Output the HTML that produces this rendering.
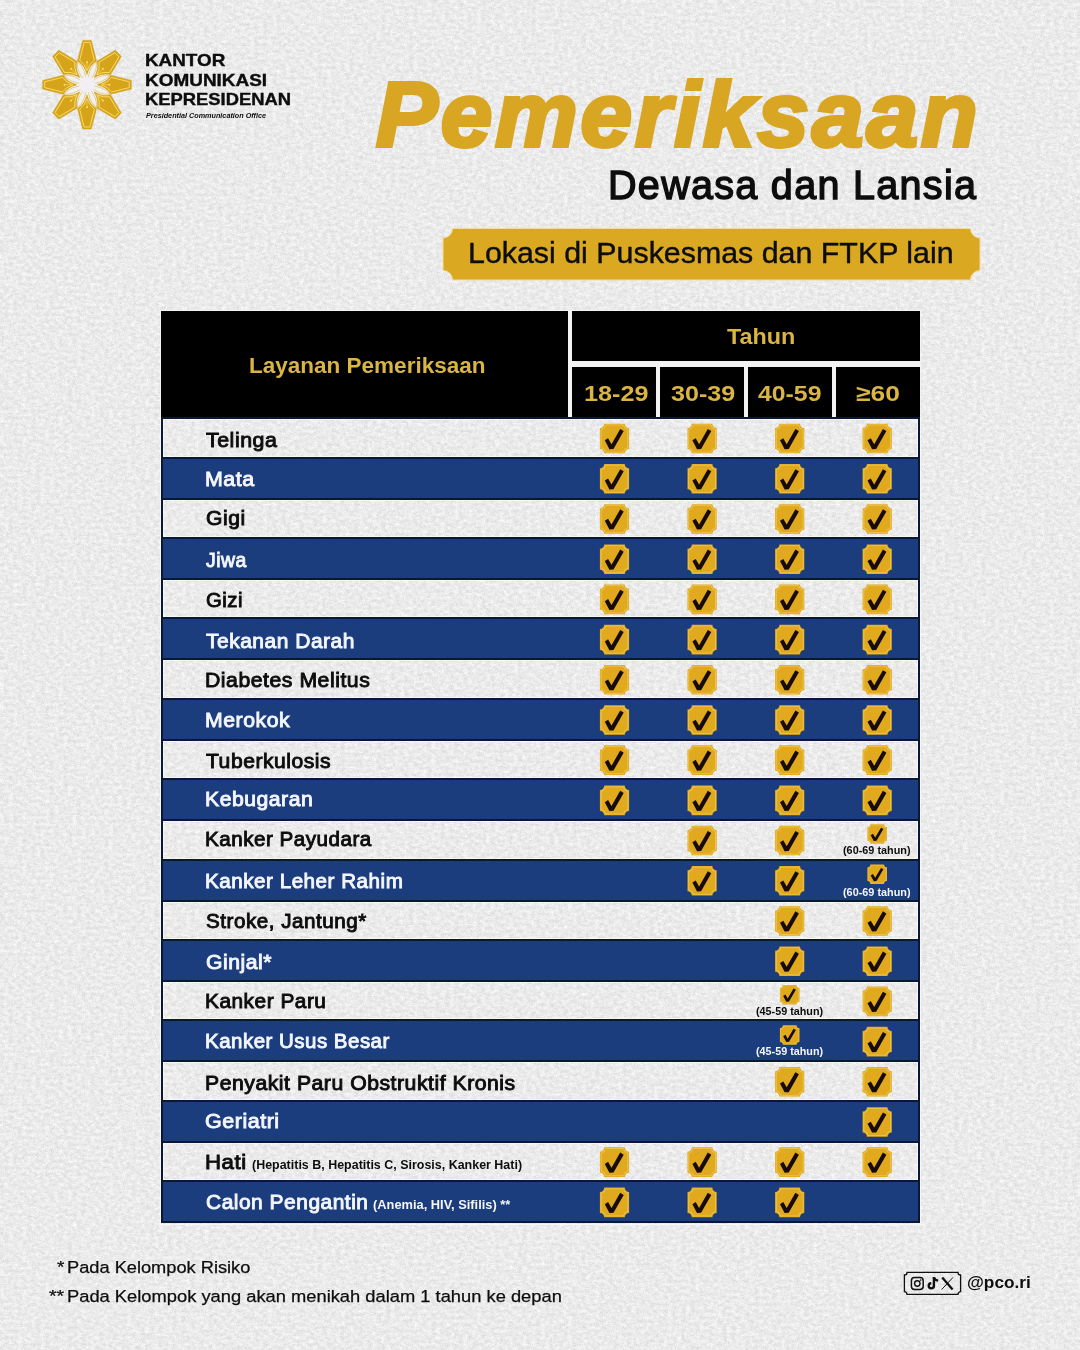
<!DOCTYPE html>
<html lang="id">
<head>
<meta charset="utf-8">
<title>Pemeriksaan Dewasa dan Lansia</title>
<style>
html,body{margin:0;padding:0;background:#f0f0f0;}
body{width:1080px;height:1350px;overflow:hidden;position:relative;font-family:"Liberation Sans",sans-serif;}
#page{position:absolute;left:0;top:0;width:1080px;height:1350px;overflow:hidden;background:#f0f0f0;}
.t{position:absolute;white-space:nowrap;line-height:1;font-weight:700;transform-origin:0 50%;margin:0;padding:0;}
.abs{position:absolute;}
svg{position:absolute;left:0;top:0;overflow:visible;}
/* table */
.hd{position:absolute;background:#000;}
#tb{position:absolute;left:159.6px;top:417.3px;width:761px;height:807.4px;box-sizing:border-box;border:1px solid #f7f7f7;border-top:0;}
.lr{position:absolute;left:160.6px;width:759px;height:41.4px;box-sizing:border-box;border:2px solid #0a1836;box-shadow:inset 0 0 0 1px rgba(255,255,255,.55);}
.br{position:absolute;left:160.6px;width:759px;height:39.2px;box-sizing:border-box;background:#1b3d7d;border-left:2px solid #0a1836;border-right:2px solid #0a1836;}
.gap{position:absolute;background:#f3f3f3;}
</style>
</head>
<body>
<div id="page">
<!-- paper grain -->
<svg id="grain" width="1080" height="1350" viewBox="0 0 1080 1350">
  <filter id="pg" x="0" y="0" width="100%" height="100%" color-interpolation-filters="sRGB">
    <feTurbulence type="fractalNoise" baseFrequency="0.22 0.3" numOctaves="5" seed="23"/>
    <feColorMatrix type="matrix" values="1 0 0 0 0  1 0 0 0 0  1 0 0 0 0  0 0 0 0 1" result="a"/>
    <feTurbulence type="fractalNoise" baseFrequency="0.9 1.1" numOctaves="2" seed="5"/>
    <feColorMatrix type="matrix" values="1 0 0 0 0  1 0 0 0 0  1 0 0 0 0  0 0 0 0 1" result="b"/>
    <feComposite in="a" in2="b" operator="arithmetic" k1="0" k2="0.55" k3="0.44999999999999996" k4="0"/>
    <feColorMatrix type="matrix" values="0.26 0 0 0 0.79  0.26 0 0 0 0.79  0.26 0 0 0 0.79  0 0 0 0 1"/>
  </filter>
  <rect width="1080" height="1350" filter="url(#pg)"/>
</svg>


<!-- logo -->
<svg width="1080" height="1350" viewBox="0 0 1080 1350">
  <g transform="translate(87.0,84.7)">
    <circle r="24" fill="#f3f1ee"/>
    <g transform="rotate(0)"><path d="M-4.3,-44.3H4.3L9.5,-23.8Q2.4,-19.6 0,-10.2Q-2.4,-19.6 -9.5,-23.8Z" fill="#d5a41b" stroke="#c99c1f" stroke-width="0.5" stroke-linejoin="round"/><path d="M-2.9,-42.3H2.9L7.3,-24.5Q2.0,-20.6 0,-14Q-2.0,-20.6 -7.3,-24.5Z" fill="none" stroke="#ffde66" stroke-width="0.9"/><path d="M0,-22.5V-16" stroke="#ffde66" stroke-width="0.6"/><circle cx="0" cy="-22.5" r="1" fill="#ffe06a"/></g>
    <g transform="rotate(45)"><path d="M-4.3,-44.3H4.3L9.5,-23.8Q2.4,-19.6 0,-10.2Q-2.4,-19.6 -9.5,-23.8Z" fill="#d5a41b" stroke="#c99c1f" stroke-width="0.5" stroke-linejoin="round"/><path d="M-2.9,-42.3H2.9L7.3,-24.5Q2.0,-20.6 0,-14Q-2.0,-20.6 -7.3,-24.5Z" fill="none" stroke="#ffde66" stroke-width="0.9"/><path d="M0,-22.5V-16" stroke="#ffde66" stroke-width="0.6"/><circle cx="0" cy="-22.5" r="1" fill="#ffe06a"/></g>
    <g transform="rotate(90)"><path d="M-4.3,-44.3H4.3L9.5,-23.8Q2.4,-19.6 0,-10.2Q-2.4,-19.6 -9.5,-23.8Z" fill="#d5a41b" stroke="#c99c1f" stroke-width="0.5" stroke-linejoin="round"/><path d="M-2.9,-42.3H2.9L7.3,-24.5Q2.0,-20.6 0,-14Q-2.0,-20.6 -7.3,-24.5Z" fill="none" stroke="#ffde66" stroke-width="0.9"/><path d="M0,-22.5V-16" stroke="#ffde66" stroke-width="0.6"/><circle cx="0" cy="-22.5" r="1" fill="#ffe06a"/></g>
    <g transform="rotate(135)"><path d="M-4.3,-44.3H4.3L9.5,-23.8Q2.4,-19.6 0,-10.2Q-2.4,-19.6 -9.5,-23.8Z" fill="#d5a41b" stroke="#c99c1f" stroke-width="0.5" stroke-linejoin="round"/><path d="M-2.9,-42.3H2.9L7.3,-24.5Q2.0,-20.6 0,-14Q-2.0,-20.6 -7.3,-24.5Z" fill="none" stroke="#ffde66" stroke-width="0.9"/><path d="M0,-22.5V-16" stroke="#ffde66" stroke-width="0.6"/><circle cx="0" cy="-22.5" r="1" fill="#ffe06a"/></g>
    <g transform="rotate(180)"><path d="M-4.3,-44.3H4.3L9.5,-23.8Q2.4,-19.6 0,-10.2Q-2.4,-19.6 -9.5,-23.8Z" fill="#d5a41b" stroke="#c99c1f" stroke-width="0.5" stroke-linejoin="round"/><path d="M-2.9,-42.3H2.9L7.3,-24.5Q2.0,-20.6 0,-14Q-2.0,-20.6 -7.3,-24.5Z" fill="none" stroke="#ffde66" stroke-width="0.9"/><path d="M0,-22.5V-16" stroke="#ffde66" stroke-width="0.6"/><circle cx="0" cy="-22.5" r="1" fill="#ffe06a"/></g>
    <g transform="rotate(225)"><path d="M-4.3,-44.3H4.3L9.5,-23.8Q2.4,-19.6 0,-10.2Q-2.4,-19.6 -9.5,-23.8Z" fill="#d5a41b" stroke="#c99c1f" stroke-width="0.5" stroke-linejoin="round"/><path d="M-2.9,-42.3H2.9L7.3,-24.5Q2.0,-20.6 0,-14Q-2.0,-20.6 -7.3,-24.5Z" fill="none" stroke="#ffde66" stroke-width="0.9"/><path d="M0,-22.5V-16" stroke="#ffde66" stroke-width="0.6"/><circle cx="0" cy="-22.5" r="1" fill="#ffe06a"/></g>
    <g transform="rotate(270)"><path d="M-4.3,-44.3H4.3L9.5,-23.8Q2.4,-19.6 0,-10.2Q-2.4,-19.6 -9.5,-23.8Z" fill="#d5a41b" stroke="#c99c1f" stroke-width="0.5" stroke-linejoin="round"/><path d="M-2.9,-42.3H2.9L7.3,-24.5Q2.0,-20.6 0,-14Q-2.0,-20.6 -7.3,-24.5Z" fill="none" stroke="#ffde66" stroke-width="0.9"/><path d="M0,-22.5V-16" stroke="#ffde66" stroke-width="0.6"/><circle cx="0" cy="-22.5" r="1" fill="#ffe06a"/></g>
    <g transform="rotate(315)"><path d="M-4.3,-44.3H4.3L9.5,-23.8Q2.4,-19.6 0,-10.2Q-2.4,-19.6 -9.5,-23.8Z" fill="#d5a41b" stroke="#c99c1f" stroke-width="0.5" stroke-linejoin="round"/><path d="M-2.9,-42.3H2.9L7.3,-24.5Q2.0,-20.6 0,-14Q-2.0,-20.6 -7.3,-24.5Z" fill="none" stroke="#ffde66" stroke-width="0.9"/><path d="M0,-22.5V-16" stroke="#ffde66" stroke-width="0.6"/><circle cx="0" cy="-22.5" r="1" fill="#ffe06a"/></g>
    <path d="M0,-4Q-5.2,-14 0,-25Q5.2,-14 0,-4Z" fill="none" stroke="#d8b75a" stroke-width="0.55" transform="rotate(22.5)"/>
    <path d="M0,-4Q-5.2,-14 0,-25Q5.2,-14 0,-4Z" fill="none" stroke="#d8b75a" stroke-width="0.55" transform="rotate(67.5)"/>
    <path d="M0,-4Q-5.2,-14 0,-25Q5.2,-14 0,-4Z" fill="none" stroke="#d8b75a" stroke-width="0.55" transform="rotate(112.5)"/>
    <path d="M0,-4Q-5.2,-14 0,-25Q5.2,-14 0,-4Z" fill="none" stroke="#d8b75a" stroke-width="0.55" transform="rotate(157.5)"/>
    <path d="M0,-4Q-5.2,-14 0,-25Q5.2,-14 0,-4Z" fill="none" stroke="#d8b75a" stroke-width="0.55" transform="rotate(202.5)"/>
    <path d="M0,-4Q-5.2,-14 0,-25Q5.2,-14 0,-4Z" fill="none" stroke="#d8b75a" stroke-width="0.55" transform="rotate(247.5)"/>
    <path d="M0,-4Q-5.2,-14 0,-25Q5.2,-14 0,-4Z" fill="none" stroke="#d8b75a" stroke-width="0.55" transform="rotate(292.5)"/>
    <path d="M0,-4Q-5.2,-14 0,-25Q5.2,-14 0,-4Z" fill="none" stroke="#d8b75a" stroke-width="0.55" transform="rotate(337.5)"/>
    <circle r="8" fill="#f1eff4"/>
    </g>
  <!-- banner -->
  <path d="M452.5,228.5H970.5A9.5,9.5 0 0 0 980,238V270.5A9.5,9.5 0 0 0 970.5,280H452.5A9.5,9.5 0 0 0 443,270.5V238A9.5,9.5 0 0 0 452.5,228.5Z" fill="#dba822" stroke="#f3dca0" stroke-width="1"/>
</svg>

<!-- table header -->
<div class="gap" style="left:159.6px;top:309.8px;width:761px;height:107.6px;"></div>
<div class="hd" style="left:160.6px;top:310.8px;width:407.4px;height:106.8px;"></div>
<div class="hd" style="left:572px;top:310.8px;width:347.6px;height:50px;"></div>
<div class="hd" style="left:572px;top:366.8px;width:84.2px;height:50.8px;"></div>
<div class="hd" style="left:660px;top:366.8px;width:84px;height:50.8px;"></div>
<div class="hd" style="left:747.8px;top:366.8px;width:84px;height:50.8px;"></div>
<div class="hd" style="left:835.8px;top:366.8px;width:83.8px;height:50.8px;"></div>

<!-- table body -->
<div id="tb"></div>
<div class="lr" style="top:417.20px"></div>
<div class="br" style="top:458.60px"></div>
<div class="lr" style="top:497.60px"></div>
<div class="br" style="top:539.00px"></div>
<div class="lr" style="top:578.00px"></div>
<div class="br" style="top:619.40px"></div>
<div class="lr" style="top:658.40px"></div>
<div class="br" style="top:699.80px"></div>
<div class="lr" style="top:738.80px"></div>
<div class="br" style="top:780.20px"></div>
<div class="lr" style="top:819.20px"></div>
<div class="br" style="top:860.60px"></div>
<div class="lr" style="top:899.60px"></div>
<div class="br" style="top:941.00px"></div>
<div class="lr" style="top:980.00px"></div>
<div class="br" style="top:1021.40px"></div>
<div class="lr" style="top:1060.40px"></div>
<div class="br" style="top:1101.80px"></div>
<div class="lr" style="top:1140.80px"></div>
<div class="br" style="top:1182.20px;height:41.2px;border-bottom:2px solid #0a1836"></div>

<!-- check badges -->
<svg width="1080" height="1350" viewBox="0 0 1080 1350">
<g transform="translate(599.90,423.75) scale(1.0000,1.0000)"><path d="M4.3,0H24.9A4.3,4.3 0 0 0 29.2,4.3V25.3A4.3,4.3 0 0 0 24.9,29.6H4.3A4.3,4.3 0 0 0 0,25.3V4.3A4.3,4.3 0 0 0 4.3,0Z" fill="#e1a91d"/><path d="M1.2,5.6A5,5 0 0 0 5.6,1.2H23.6A5,5 0 0 0 28,5.6V24A5,5 0 0 0 23.6,28.4H5.6A5,5 0 0 0 1.2,24Z" fill="none" stroke="#f2d266" stroke-width="0.8" opacity="0.8"/><path d="M4.9,16.6L8.2,14.5L11.6,20.4L20.3,5.2L23.8,7.3L13.6,25.2L9.5,25.4Z" fill="#170b07"/></g>
<g transform="translate(687.50,423.75) scale(1.0000,1.0000)"><path d="M4.3,0H24.9A4.3,4.3 0 0 0 29.2,4.3V25.3A4.3,4.3 0 0 0 24.9,29.6H4.3A4.3,4.3 0 0 0 0,25.3V4.3A4.3,4.3 0 0 0 4.3,0Z" fill="#e1a91d"/><path d="M1.2,5.6A5,5 0 0 0 5.6,1.2H23.6A5,5 0 0 0 28,5.6V24A5,5 0 0 0 23.6,28.4H5.6A5,5 0 0 0 1.2,24Z" fill="none" stroke="#f2d266" stroke-width="0.8" opacity="0.8"/><path d="M4.9,16.6L8.2,14.5L11.6,20.4L20.3,5.2L23.8,7.3L13.6,25.2L9.5,25.4Z" fill="#170b07"/></g>
<g transform="translate(775.10,423.75) scale(1.0000,1.0000)"><path d="M4.3,0H24.9A4.3,4.3 0 0 0 29.2,4.3V25.3A4.3,4.3 0 0 0 24.9,29.6H4.3A4.3,4.3 0 0 0 0,25.3V4.3A4.3,4.3 0 0 0 4.3,0Z" fill="#e1a91d"/><path d="M1.2,5.6A5,5 0 0 0 5.6,1.2H23.6A5,5 0 0 0 28,5.6V24A5,5 0 0 0 23.6,28.4H5.6A5,5 0 0 0 1.2,24Z" fill="none" stroke="#f2d266" stroke-width="0.8" opacity="0.8"/><path d="M4.9,16.6L8.2,14.5L11.6,20.4L20.3,5.2L23.8,7.3L13.6,25.2L9.5,25.4Z" fill="#170b07"/></g>
<g transform="translate(862.60,423.75) scale(1.0000,1.0000)"><path d="M4.3,0H24.9A4.3,4.3 0 0 0 29.2,4.3V25.3A4.3,4.3 0 0 0 24.9,29.6H4.3A4.3,4.3 0 0 0 0,25.3V4.3A4.3,4.3 0 0 0 4.3,0Z" fill="#e1a91d"/><path d="M1.2,5.6A5,5 0 0 0 5.6,1.2H23.6A5,5 0 0 0 28,5.6V24A5,5 0 0 0 23.6,28.4H5.6A5,5 0 0 0 1.2,24Z" fill="none" stroke="#f2d266" stroke-width="0.8" opacity="0.8"/><path d="M4.9,16.6L8.2,14.5L11.6,20.4L20.3,5.2L23.8,7.3L13.6,25.2L9.5,25.4Z" fill="#170b07"/></g>
<g transform="translate(599.90,464.00) scale(1.0000,1.0000)"><path d="M4.3,0H24.9A4.3,4.3 0 0 0 29.2,4.3V25.3A4.3,4.3 0 0 0 24.9,29.6H4.3A4.3,4.3 0 0 0 0,25.3V4.3A4.3,4.3 0 0 0 4.3,0Z" fill="#e1a91d"/><path d="M1.2,5.6A5,5 0 0 0 5.6,1.2H23.6A5,5 0 0 0 28,5.6V24A5,5 0 0 0 23.6,28.4H5.6A5,5 0 0 0 1.2,24Z" fill="none" stroke="#f2d266" stroke-width="0.8" opacity="0.8"/><path d="M4.9,16.6L8.2,14.5L11.6,20.4L20.3,5.2L23.8,7.3L13.6,25.2L9.5,25.4Z" fill="#170b07"/></g>
<g transform="translate(687.50,464.00) scale(1.0000,1.0000)"><path d="M4.3,0H24.9A4.3,4.3 0 0 0 29.2,4.3V25.3A4.3,4.3 0 0 0 24.9,29.6H4.3A4.3,4.3 0 0 0 0,25.3V4.3A4.3,4.3 0 0 0 4.3,0Z" fill="#e1a91d"/><path d="M1.2,5.6A5,5 0 0 0 5.6,1.2H23.6A5,5 0 0 0 28,5.6V24A5,5 0 0 0 23.6,28.4H5.6A5,5 0 0 0 1.2,24Z" fill="none" stroke="#f2d266" stroke-width="0.8" opacity="0.8"/><path d="M4.9,16.6L8.2,14.5L11.6,20.4L20.3,5.2L23.8,7.3L13.6,25.2L9.5,25.4Z" fill="#170b07"/></g>
<g transform="translate(775.10,464.00) scale(1.0000,1.0000)"><path d="M4.3,0H24.9A4.3,4.3 0 0 0 29.2,4.3V25.3A4.3,4.3 0 0 0 24.9,29.6H4.3A4.3,4.3 0 0 0 0,25.3V4.3A4.3,4.3 0 0 0 4.3,0Z" fill="#e1a91d"/><path d="M1.2,5.6A5,5 0 0 0 5.6,1.2H23.6A5,5 0 0 0 28,5.6V24A5,5 0 0 0 23.6,28.4H5.6A5,5 0 0 0 1.2,24Z" fill="none" stroke="#f2d266" stroke-width="0.8" opacity="0.8"/><path d="M4.9,16.6L8.2,14.5L11.6,20.4L20.3,5.2L23.8,7.3L13.6,25.2L9.5,25.4Z" fill="#170b07"/></g>
<g transform="translate(862.60,464.00) scale(1.0000,1.0000)"><path d="M4.3,0H24.9A4.3,4.3 0 0 0 29.2,4.3V25.3A4.3,4.3 0 0 0 24.9,29.6H4.3A4.3,4.3 0 0 0 0,25.3V4.3A4.3,4.3 0 0 0 4.3,0Z" fill="#e1a91d"/><path d="M1.2,5.6A5,5 0 0 0 5.6,1.2H23.6A5,5 0 0 0 28,5.6V24A5,5 0 0 0 23.6,28.4H5.6A5,5 0 0 0 1.2,24Z" fill="none" stroke="#f2d266" stroke-width="0.8" opacity="0.8"/><path d="M4.9,16.6L8.2,14.5L11.6,20.4L20.3,5.2L23.8,7.3L13.6,25.2L9.5,25.4Z" fill="#170b07"/></g>
<g transform="translate(599.90,504.15) scale(1.0000,1.0000)"><path d="M4.3,0H24.9A4.3,4.3 0 0 0 29.2,4.3V25.3A4.3,4.3 0 0 0 24.9,29.6H4.3A4.3,4.3 0 0 0 0,25.3V4.3A4.3,4.3 0 0 0 4.3,0Z" fill="#e1a91d"/><path d="M1.2,5.6A5,5 0 0 0 5.6,1.2H23.6A5,5 0 0 0 28,5.6V24A5,5 0 0 0 23.6,28.4H5.6A5,5 0 0 0 1.2,24Z" fill="none" stroke="#f2d266" stroke-width="0.8" opacity="0.8"/><path d="M4.9,16.6L8.2,14.5L11.6,20.4L20.3,5.2L23.8,7.3L13.6,25.2L9.5,25.4Z" fill="#170b07"/></g>
<g transform="translate(687.50,504.15) scale(1.0000,1.0000)"><path d="M4.3,0H24.9A4.3,4.3 0 0 0 29.2,4.3V25.3A4.3,4.3 0 0 0 24.9,29.6H4.3A4.3,4.3 0 0 0 0,25.3V4.3A4.3,4.3 0 0 0 4.3,0Z" fill="#e1a91d"/><path d="M1.2,5.6A5,5 0 0 0 5.6,1.2H23.6A5,5 0 0 0 28,5.6V24A5,5 0 0 0 23.6,28.4H5.6A5,5 0 0 0 1.2,24Z" fill="none" stroke="#f2d266" stroke-width="0.8" opacity="0.8"/><path d="M4.9,16.6L8.2,14.5L11.6,20.4L20.3,5.2L23.8,7.3L13.6,25.2L9.5,25.4Z" fill="#170b07"/></g>
<g transform="translate(775.10,504.15) scale(1.0000,1.0000)"><path d="M4.3,0H24.9A4.3,4.3 0 0 0 29.2,4.3V25.3A4.3,4.3 0 0 0 24.9,29.6H4.3A4.3,4.3 0 0 0 0,25.3V4.3A4.3,4.3 0 0 0 4.3,0Z" fill="#e1a91d"/><path d="M1.2,5.6A5,5 0 0 0 5.6,1.2H23.6A5,5 0 0 0 28,5.6V24A5,5 0 0 0 23.6,28.4H5.6A5,5 0 0 0 1.2,24Z" fill="none" stroke="#f2d266" stroke-width="0.8" opacity="0.8"/><path d="M4.9,16.6L8.2,14.5L11.6,20.4L20.3,5.2L23.8,7.3L13.6,25.2L9.5,25.4Z" fill="#170b07"/></g>
<g transform="translate(862.60,504.15) scale(1.0000,1.0000)"><path d="M4.3,0H24.9A4.3,4.3 0 0 0 29.2,4.3V25.3A4.3,4.3 0 0 0 24.9,29.6H4.3A4.3,4.3 0 0 0 0,25.3V4.3A4.3,4.3 0 0 0 4.3,0Z" fill="#e1a91d"/><path d="M1.2,5.6A5,5 0 0 0 5.6,1.2H23.6A5,5 0 0 0 28,5.6V24A5,5 0 0 0 23.6,28.4H5.6A5,5 0 0 0 1.2,24Z" fill="none" stroke="#f2d266" stroke-width="0.8" opacity="0.8"/><path d="M4.9,16.6L8.2,14.5L11.6,20.4L20.3,5.2L23.8,7.3L13.6,25.2L9.5,25.4Z" fill="#170b07"/></g>
<g transform="translate(599.90,544.40) scale(1.0000,1.0000)"><path d="M4.3,0H24.9A4.3,4.3 0 0 0 29.2,4.3V25.3A4.3,4.3 0 0 0 24.9,29.6H4.3A4.3,4.3 0 0 0 0,25.3V4.3A4.3,4.3 0 0 0 4.3,0Z" fill="#e1a91d"/><path d="M1.2,5.6A5,5 0 0 0 5.6,1.2H23.6A5,5 0 0 0 28,5.6V24A5,5 0 0 0 23.6,28.4H5.6A5,5 0 0 0 1.2,24Z" fill="none" stroke="#f2d266" stroke-width="0.8" opacity="0.8"/><path d="M4.9,16.6L8.2,14.5L11.6,20.4L20.3,5.2L23.8,7.3L13.6,25.2L9.5,25.4Z" fill="#170b07"/></g>
<g transform="translate(687.50,544.40) scale(1.0000,1.0000)"><path d="M4.3,0H24.9A4.3,4.3 0 0 0 29.2,4.3V25.3A4.3,4.3 0 0 0 24.9,29.6H4.3A4.3,4.3 0 0 0 0,25.3V4.3A4.3,4.3 0 0 0 4.3,0Z" fill="#e1a91d"/><path d="M1.2,5.6A5,5 0 0 0 5.6,1.2H23.6A5,5 0 0 0 28,5.6V24A5,5 0 0 0 23.6,28.4H5.6A5,5 0 0 0 1.2,24Z" fill="none" stroke="#f2d266" stroke-width="0.8" opacity="0.8"/><path d="M4.9,16.6L8.2,14.5L11.6,20.4L20.3,5.2L23.8,7.3L13.6,25.2L9.5,25.4Z" fill="#170b07"/></g>
<g transform="translate(775.10,544.40) scale(1.0000,1.0000)"><path d="M4.3,0H24.9A4.3,4.3 0 0 0 29.2,4.3V25.3A4.3,4.3 0 0 0 24.9,29.6H4.3A4.3,4.3 0 0 0 0,25.3V4.3A4.3,4.3 0 0 0 4.3,0Z" fill="#e1a91d"/><path d="M1.2,5.6A5,5 0 0 0 5.6,1.2H23.6A5,5 0 0 0 28,5.6V24A5,5 0 0 0 23.6,28.4H5.6A5,5 0 0 0 1.2,24Z" fill="none" stroke="#f2d266" stroke-width="0.8" opacity="0.8"/><path d="M4.9,16.6L8.2,14.5L11.6,20.4L20.3,5.2L23.8,7.3L13.6,25.2L9.5,25.4Z" fill="#170b07"/></g>
<g transform="translate(862.60,544.40) scale(1.0000,1.0000)"><path d="M4.3,0H24.9A4.3,4.3 0 0 0 29.2,4.3V25.3A4.3,4.3 0 0 0 24.9,29.6H4.3A4.3,4.3 0 0 0 0,25.3V4.3A4.3,4.3 0 0 0 4.3,0Z" fill="#e1a91d"/><path d="M1.2,5.6A5,5 0 0 0 5.6,1.2H23.6A5,5 0 0 0 28,5.6V24A5,5 0 0 0 23.6,28.4H5.6A5,5 0 0 0 1.2,24Z" fill="none" stroke="#f2d266" stroke-width="0.8" opacity="0.8"/><path d="M4.9,16.6L8.2,14.5L11.6,20.4L20.3,5.2L23.8,7.3L13.6,25.2L9.5,25.4Z" fill="#170b07"/></g>
<g transform="translate(599.90,584.55) scale(1.0000,1.0000)"><path d="M4.3,0H24.9A4.3,4.3 0 0 0 29.2,4.3V25.3A4.3,4.3 0 0 0 24.9,29.6H4.3A4.3,4.3 0 0 0 0,25.3V4.3A4.3,4.3 0 0 0 4.3,0Z" fill="#e1a91d"/><path d="M1.2,5.6A5,5 0 0 0 5.6,1.2H23.6A5,5 0 0 0 28,5.6V24A5,5 0 0 0 23.6,28.4H5.6A5,5 0 0 0 1.2,24Z" fill="none" stroke="#f2d266" stroke-width="0.8" opacity="0.8"/><path d="M4.9,16.6L8.2,14.5L11.6,20.4L20.3,5.2L23.8,7.3L13.6,25.2L9.5,25.4Z" fill="#170b07"/></g>
<g transform="translate(687.50,584.55) scale(1.0000,1.0000)"><path d="M4.3,0H24.9A4.3,4.3 0 0 0 29.2,4.3V25.3A4.3,4.3 0 0 0 24.9,29.6H4.3A4.3,4.3 0 0 0 0,25.3V4.3A4.3,4.3 0 0 0 4.3,0Z" fill="#e1a91d"/><path d="M1.2,5.6A5,5 0 0 0 5.6,1.2H23.6A5,5 0 0 0 28,5.6V24A5,5 0 0 0 23.6,28.4H5.6A5,5 0 0 0 1.2,24Z" fill="none" stroke="#f2d266" stroke-width="0.8" opacity="0.8"/><path d="M4.9,16.6L8.2,14.5L11.6,20.4L20.3,5.2L23.8,7.3L13.6,25.2L9.5,25.4Z" fill="#170b07"/></g>
<g transform="translate(775.10,584.55) scale(1.0000,1.0000)"><path d="M4.3,0H24.9A4.3,4.3 0 0 0 29.2,4.3V25.3A4.3,4.3 0 0 0 24.9,29.6H4.3A4.3,4.3 0 0 0 0,25.3V4.3A4.3,4.3 0 0 0 4.3,0Z" fill="#e1a91d"/><path d="M1.2,5.6A5,5 0 0 0 5.6,1.2H23.6A5,5 0 0 0 28,5.6V24A5,5 0 0 0 23.6,28.4H5.6A5,5 0 0 0 1.2,24Z" fill="none" stroke="#f2d266" stroke-width="0.8" opacity="0.8"/><path d="M4.9,16.6L8.2,14.5L11.6,20.4L20.3,5.2L23.8,7.3L13.6,25.2L9.5,25.4Z" fill="#170b07"/></g>
<g transform="translate(862.60,584.55) scale(1.0000,1.0000)"><path d="M4.3,0H24.9A4.3,4.3 0 0 0 29.2,4.3V25.3A4.3,4.3 0 0 0 24.9,29.6H4.3A4.3,4.3 0 0 0 0,25.3V4.3A4.3,4.3 0 0 0 4.3,0Z" fill="#e1a91d"/><path d="M1.2,5.6A5,5 0 0 0 5.6,1.2H23.6A5,5 0 0 0 28,5.6V24A5,5 0 0 0 23.6,28.4H5.6A5,5 0 0 0 1.2,24Z" fill="none" stroke="#f2d266" stroke-width="0.8" opacity="0.8"/><path d="M4.9,16.6L8.2,14.5L11.6,20.4L20.3,5.2L23.8,7.3L13.6,25.2L9.5,25.4Z" fill="#170b07"/></g>
<g transform="translate(599.90,624.80) scale(1.0000,1.0000)"><path d="M4.3,0H24.9A4.3,4.3 0 0 0 29.2,4.3V25.3A4.3,4.3 0 0 0 24.9,29.6H4.3A4.3,4.3 0 0 0 0,25.3V4.3A4.3,4.3 0 0 0 4.3,0Z" fill="#e1a91d"/><path d="M1.2,5.6A5,5 0 0 0 5.6,1.2H23.6A5,5 0 0 0 28,5.6V24A5,5 0 0 0 23.6,28.4H5.6A5,5 0 0 0 1.2,24Z" fill="none" stroke="#f2d266" stroke-width="0.8" opacity="0.8"/><path d="M4.9,16.6L8.2,14.5L11.6,20.4L20.3,5.2L23.8,7.3L13.6,25.2L9.5,25.4Z" fill="#170b07"/></g>
<g transform="translate(687.50,624.80) scale(1.0000,1.0000)"><path d="M4.3,0H24.9A4.3,4.3 0 0 0 29.2,4.3V25.3A4.3,4.3 0 0 0 24.9,29.6H4.3A4.3,4.3 0 0 0 0,25.3V4.3A4.3,4.3 0 0 0 4.3,0Z" fill="#e1a91d"/><path d="M1.2,5.6A5,5 0 0 0 5.6,1.2H23.6A5,5 0 0 0 28,5.6V24A5,5 0 0 0 23.6,28.4H5.6A5,5 0 0 0 1.2,24Z" fill="none" stroke="#f2d266" stroke-width="0.8" opacity="0.8"/><path d="M4.9,16.6L8.2,14.5L11.6,20.4L20.3,5.2L23.8,7.3L13.6,25.2L9.5,25.4Z" fill="#170b07"/></g>
<g transform="translate(775.10,624.80) scale(1.0000,1.0000)"><path d="M4.3,0H24.9A4.3,4.3 0 0 0 29.2,4.3V25.3A4.3,4.3 0 0 0 24.9,29.6H4.3A4.3,4.3 0 0 0 0,25.3V4.3A4.3,4.3 0 0 0 4.3,0Z" fill="#e1a91d"/><path d="M1.2,5.6A5,5 0 0 0 5.6,1.2H23.6A5,5 0 0 0 28,5.6V24A5,5 0 0 0 23.6,28.4H5.6A5,5 0 0 0 1.2,24Z" fill="none" stroke="#f2d266" stroke-width="0.8" opacity="0.8"/><path d="M4.9,16.6L8.2,14.5L11.6,20.4L20.3,5.2L23.8,7.3L13.6,25.2L9.5,25.4Z" fill="#170b07"/></g>
<g transform="translate(862.60,624.80) scale(1.0000,1.0000)"><path d="M4.3,0H24.9A4.3,4.3 0 0 0 29.2,4.3V25.3A4.3,4.3 0 0 0 24.9,29.6H4.3A4.3,4.3 0 0 0 0,25.3V4.3A4.3,4.3 0 0 0 4.3,0Z" fill="#e1a91d"/><path d="M1.2,5.6A5,5 0 0 0 5.6,1.2H23.6A5,5 0 0 0 28,5.6V24A5,5 0 0 0 23.6,28.4H5.6A5,5 0 0 0 1.2,24Z" fill="none" stroke="#f2d266" stroke-width="0.8" opacity="0.8"/><path d="M4.9,16.6L8.2,14.5L11.6,20.4L20.3,5.2L23.8,7.3L13.6,25.2L9.5,25.4Z" fill="#170b07"/></g>
<g transform="translate(599.90,664.95) scale(1.0000,1.0000)"><path d="M4.3,0H24.9A4.3,4.3 0 0 0 29.2,4.3V25.3A4.3,4.3 0 0 0 24.9,29.6H4.3A4.3,4.3 0 0 0 0,25.3V4.3A4.3,4.3 0 0 0 4.3,0Z" fill="#e1a91d"/><path d="M1.2,5.6A5,5 0 0 0 5.6,1.2H23.6A5,5 0 0 0 28,5.6V24A5,5 0 0 0 23.6,28.4H5.6A5,5 0 0 0 1.2,24Z" fill="none" stroke="#f2d266" stroke-width="0.8" opacity="0.8"/><path d="M4.9,16.6L8.2,14.5L11.6,20.4L20.3,5.2L23.8,7.3L13.6,25.2L9.5,25.4Z" fill="#170b07"/></g>
<g transform="translate(687.50,664.95) scale(1.0000,1.0000)"><path d="M4.3,0H24.9A4.3,4.3 0 0 0 29.2,4.3V25.3A4.3,4.3 0 0 0 24.9,29.6H4.3A4.3,4.3 0 0 0 0,25.3V4.3A4.3,4.3 0 0 0 4.3,0Z" fill="#e1a91d"/><path d="M1.2,5.6A5,5 0 0 0 5.6,1.2H23.6A5,5 0 0 0 28,5.6V24A5,5 0 0 0 23.6,28.4H5.6A5,5 0 0 0 1.2,24Z" fill="none" stroke="#f2d266" stroke-width="0.8" opacity="0.8"/><path d="M4.9,16.6L8.2,14.5L11.6,20.4L20.3,5.2L23.8,7.3L13.6,25.2L9.5,25.4Z" fill="#170b07"/></g>
<g transform="translate(775.10,664.95) scale(1.0000,1.0000)"><path d="M4.3,0H24.9A4.3,4.3 0 0 0 29.2,4.3V25.3A4.3,4.3 0 0 0 24.9,29.6H4.3A4.3,4.3 0 0 0 0,25.3V4.3A4.3,4.3 0 0 0 4.3,0Z" fill="#e1a91d"/><path d="M1.2,5.6A5,5 0 0 0 5.6,1.2H23.6A5,5 0 0 0 28,5.6V24A5,5 0 0 0 23.6,28.4H5.6A5,5 0 0 0 1.2,24Z" fill="none" stroke="#f2d266" stroke-width="0.8" opacity="0.8"/><path d="M4.9,16.6L8.2,14.5L11.6,20.4L20.3,5.2L23.8,7.3L13.6,25.2L9.5,25.4Z" fill="#170b07"/></g>
<g transform="translate(862.60,664.95) scale(1.0000,1.0000)"><path d="M4.3,0H24.9A4.3,4.3 0 0 0 29.2,4.3V25.3A4.3,4.3 0 0 0 24.9,29.6H4.3A4.3,4.3 0 0 0 0,25.3V4.3A4.3,4.3 0 0 0 4.3,0Z" fill="#e1a91d"/><path d="M1.2,5.6A5,5 0 0 0 5.6,1.2H23.6A5,5 0 0 0 28,5.6V24A5,5 0 0 0 23.6,28.4H5.6A5,5 0 0 0 1.2,24Z" fill="none" stroke="#f2d266" stroke-width="0.8" opacity="0.8"/><path d="M4.9,16.6L8.2,14.5L11.6,20.4L20.3,5.2L23.8,7.3L13.6,25.2L9.5,25.4Z" fill="#170b07"/></g>
<g transform="translate(599.90,705.20) scale(1.0000,1.0000)"><path d="M4.3,0H24.9A4.3,4.3 0 0 0 29.2,4.3V25.3A4.3,4.3 0 0 0 24.9,29.6H4.3A4.3,4.3 0 0 0 0,25.3V4.3A4.3,4.3 0 0 0 4.3,0Z" fill="#e1a91d"/><path d="M1.2,5.6A5,5 0 0 0 5.6,1.2H23.6A5,5 0 0 0 28,5.6V24A5,5 0 0 0 23.6,28.4H5.6A5,5 0 0 0 1.2,24Z" fill="none" stroke="#f2d266" stroke-width="0.8" opacity="0.8"/><path d="M4.9,16.6L8.2,14.5L11.6,20.4L20.3,5.2L23.8,7.3L13.6,25.2L9.5,25.4Z" fill="#170b07"/></g>
<g transform="translate(687.50,705.20) scale(1.0000,1.0000)"><path d="M4.3,0H24.9A4.3,4.3 0 0 0 29.2,4.3V25.3A4.3,4.3 0 0 0 24.9,29.6H4.3A4.3,4.3 0 0 0 0,25.3V4.3A4.3,4.3 0 0 0 4.3,0Z" fill="#e1a91d"/><path d="M1.2,5.6A5,5 0 0 0 5.6,1.2H23.6A5,5 0 0 0 28,5.6V24A5,5 0 0 0 23.6,28.4H5.6A5,5 0 0 0 1.2,24Z" fill="none" stroke="#f2d266" stroke-width="0.8" opacity="0.8"/><path d="M4.9,16.6L8.2,14.5L11.6,20.4L20.3,5.2L23.8,7.3L13.6,25.2L9.5,25.4Z" fill="#170b07"/></g>
<g transform="translate(775.10,705.20) scale(1.0000,1.0000)"><path d="M4.3,0H24.9A4.3,4.3 0 0 0 29.2,4.3V25.3A4.3,4.3 0 0 0 24.9,29.6H4.3A4.3,4.3 0 0 0 0,25.3V4.3A4.3,4.3 0 0 0 4.3,0Z" fill="#e1a91d"/><path d="M1.2,5.6A5,5 0 0 0 5.6,1.2H23.6A5,5 0 0 0 28,5.6V24A5,5 0 0 0 23.6,28.4H5.6A5,5 0 0 0 1.2,24Z" fill="none" stroke="#f2d266" stroke-width="0.8" opacity="0.8"/><path d="M4.9,16.6L8.2,14.5L11.6,20.4L20.3,5.2L23.8,7.3L13.6,25.2L9.5,25.4Z" fill="#170b07"/></g>
<g transform="translate(862.60,705.20) scale(1.0000,1.0000)"><path d="M4.3,0H24.9A4.3,4.3 0 0 0 29.2,4.3V25.3A4.3,4.3 0 0 0 24.9,29.6H4.3A4.3,4.3 0 0 0 0,25.3V4.3A4.3,4.3 0 0 0 4.3,0Z" fill="#e1a91d"/><path d="M1.2,5.6A5,5 0 0 0 5.6,1.2H23.6A5,5 0 0 0 28,5.6V24A5,5 0 0 0 23.6,28.4H5.6A5,5 0 0 0 1.2,24Z" fill="none" stroke="#f2d266" stroke-width="0.8" opacity="0.8"/><path d="M4.9,16.6L8.2,14.5L11.6,20.4L20.3,5.2L23.8,7.3L13.6,25.2L9.5,25.4Z" fill="#170b07"/></g>
<g transform="translate(599.90,745.35) scale(1.0000,1.0000)"><path d="M4.3,0H24.9A4.3,4.3 0 0 0 29.2,4.3V25.3A4.3,4.3 0 0 0 24.9,29.6H4.3A4.3,4.3 0 0 0 0,25.3V4.3A4.3,4.3 0 0 0 4.3,0Z" fill="#e1a91d"/><path d="M1.2,5.6A5,5 0 0 0 5.6,1.2H23.6A5,5 0 0 0 28,5.6V24A5,5 0 0 0 23.6,28.4H5.6A5,5 0 0 0 1.2,24Z" fill="none" stroke="#f2d266" stroke-width="0.8" opacity="0.8"/><path d="M4.9,16.6L8.2,14.5L11.6,20.4L20.3,5.2L23.8,7.3L13.6,25.2L9.5,25.4Z" fill="#170b07"/></g>
<g transform="translate(687.50,745.35) scale(1.0000,1.0000)"><path d="M4.3,0H24.9A4.3,4.3 0 0 0 29.2,4.3V25.3A4.3,4.3 0 0 0 24.9,29.6H4.3A4.3,4.3 0 0 0 0,25.3V4.3A4.3,4.3 0 0 0 4.3,0Z" fill="#e1a91d"/><path d="M1.2,5.6A5,5 0 0 0 5.6,1.2H23.6A5,5 0 0 0 28,5.6V24A5,5 0 0 0 23.6,28.4H5.6A5,5 0 0 0 1.2,24Z" fill="none" stroke="#f2d266" stroke-width="0.8" opacity="0.8"/><path d="M4.9,16.6L8.2,14.5L11.6,20.4L20.3,5.2L23.8,7.3L13.6,25.2L9.5,25.4Z" fill="#170b07"/></g>
<g transform="translate(775.10,745.35) scale(1.0000,1.0000)"><path d="M4.3,0H24.9A4.3,4.3 0 0 0 29.2,4.3V25.3A4.3,4.3 0 0 0 24.9,29.6H4.3A4.3,4.3 0 0 0 0,25.3V4.3A4.3,4.3 0 0 0 4.3,0Z" fill="#e1a91d"/><path d="M1.2,5.6A5,5 0 0 0 5.6,1.2H23.6A5,5 0 0 0 28,5.6V24A5,5 0 0 0 23.6,28.4H5.6A5,5 0 0 0 1.2,24Z" fill="none" stroke="#f2d266" stroke-width="0.8" opacity="0.8"/><path d="M4.9,16.6L8.2,14.5L11.6,20.4L20.3,5.2L23.8,7.3L13.6,25.2L9.5,25.4Z" fill="#170b07"/></g>
<g transform="translate(862.60,745.35) scale(1.0000,1.0000)"><path d="M4.3,0H24.9A4.3,4.3 0 0 0 29.2,4.3V25.3A4.3,4.3 0 0 0 24.9,29.6H4.3A4.3,4.3 0 0 0 0,25.3V4.3A4.3,4.3 0 0 0 4.3,0Z" fill="#e1a91d"/><path d="M1.2,5.6A5,5 0 0 0 5.6,1.2H23.6A5,5 0 0 0 28,5.6V24A5,5 0 0 0 23.6,28.4H5.6A5,5 0 0 0 1.2,24Z" fill="none" stroke="#f2d266" stroke-width="0.8" opacity="0.8"/><path d="M4.9,16.6L8.2,14.5L11.6,20.4L20.3,5.2L23.8,7.3L13.6,25.2L9.5,25.4Z" fill="#170b07"/></g>
<g transform="translate(599.90,785.60) scale(1.0000,1.0000)"><path d="M4.3,0H24.9A4.3,4.3 0 0 0 29.2,4.3V25.3A4.3,4.3 0 0 0 24.9,29.6H4.3A4.3,4.3 0 0 0 0,25.3V4.3A4.3,4.3 0 0 0 4.3,0Z" fill="#e1a91d"/><path d="M1.2,5.6A5,5 0 0 0 5.6,1.2H23.6A5,5 0 0 0 28,5.6V24A5,5 0 0 0 23.6,28.4H5.6A5,5 0 0 0 1.2,24Z" fill="none" stroke="#f2d266" stroke-width="0.8" opacity="0.8"/><path d="M4.9,16.6L8.2,14.5L11.6,20.4L20.3,5.2L23.8,7.3L13.6,25.2L9.5,25.4Z" fill="#170b07"/></g>
<g transform="translate(687.50,785.60) scale(1.0000,1.0000)"><path d="M4.3,0H24.9A4.3,4.3 0 0 0 29.2,4.3V25.3A4.3,4.3 0 0 0 24.9,29.6H4.3A4.3,4.3 0 0 0 0,25.3V4.3A4.3,4.3 0 0 0 4.3,0Z" fill="#e1a91d"/><path d="M1.2,5.6A5,5 0 0 0 5.6,1.2H23.6A5,5 0 0 0 28,5.6V24A5,5 0 0 0 23.6,28.4H5.6A5,5 0 0 0 1.2,24Z" fill="none" stroke="#f2d266" stroke-width="0.8" opacity="0.8"/><path d="M4.9,16.6L8.2,14.5L11.6,20.4L20.3,5.2L23.8,7.3L13.6,25.2L9.5,25.4Z" fill="#170b07"/></g>
<g transform="translate(775.10,785.60) scale(1.0000,1.0000)"><path d="M4.3,0H24.9A4.3,4.3 0 0 0 29.2,4.3V25.3A4.3,4.3 0 0 0 24.9,29.6H4.3A4.3,4.3 0 0 0 0,25.3V4.3A4.3,4.3 0 0 0 4.3,0Z" fill="#e1a91d"/><path d="M1.2,5.6A5,5 0 0 0 5.6,1.2H23.6A5,5 0 0 0 28,5.6V24A5,5 0 0 0 23.6,28.4H5.6A5,5 0 0 0 1.2,24Z" fill="none" stroke="#f2d266" stroke-width="0.8" opacity="0.8"/><path d="M4.9,16.6L8.2,14.5L11.6,20.4L20.3,5.2L23.8,7.3L13.6,25.2L9.5,25.4Z" fill="#170b07"/></g>
<g transform="translate(862.60,785.60) scale(1.0000,1.0000)"><path d="M4.3,0H24.9A4.3,4.3 0 0 0 29.2,4.3V25.3A4.3,4.3 0 0 0 24.9,29.6H4.3A4.3,4.3 0 0 0 0,25.3V4.3A4.3,4.3 0 0 0 4.3,0Z" fill="#e1a91d"/><path d="M1.2,5.6A5,5 0 0 0 5.6,1.2H23.6A5,5 0 0 0 28,5.6V24A5,5 0 0 0 23.6,28.4H5.6A5,5 0 0 0 1.2,24Z" fill="none" stroke="#f2d266" stroke-width="0.8" opacity="0.8"/><path d="M4.9,16.6L8.2,14.5L11.6,20.4L20.3,5.2L23.8,7.3L13.6,25.2L9.5,25.4Z" fill="#170b07"/></g>
<g transform="translate(687.50,825.75) scale(1.0000,1.0000)"><path d="M4.3,0H24.9A4.3,4.3 0 0 0 29.2,4.3V25.3A4.3,4.3 0 0 0 24.9,29.6H4.3A4.3,4.3 0 0 0 0,25.3V4.3A4.3,4.3 0 0 0 4.3,0Z" fill="#e1a91d"/><path d="M1.2,5.6A5,5 0 0 0 5.6,1.2H23.6A5,5 0 0 0 28,5.6V24A5,5 0 0 0 23.6,28.4H5.6A5,5 0 0 0 1.2,24Z" fill="none" stroke="#f2d266" stroke-width="0.8" opacity="0.8"/><path d="M4.9,16.6L8.2,14.5L11.6,20.4L20.3,5.2L23.8,7.3L13.6,25.2L9.5,25.4Z" fill="#170b07"/></g>
<g transform="translate(775.10,825.75) scale(1.0000,1.0000)"><path d="M4.3,0H24.9A4.3,4.3 0 0 0 29.2,4.3V25.3A4.3,4.3 0 0 0 24.9,29.6H4.3A4.3,4.3 0 0 0 0,25.3V4.3A4.3,4.3 0 0 0 4.3,0Z" fill="#e1a91d"/><path d="M1.2,5.6A5,5 0 0 0 5.6,1.2H23.6A5,5 0 0 0 28,5.6V24A5,5 0 0 0 23.6,28.4H5.6A5,5 0 0 0 1.2,24Z" fill="none" stroke="#f2d266" stroke-width="0.8" opacity="0.8"/><path d="M4.9,16.6L8.2,14.5L11.6,20.4L20.3,5.2L23.8,7.3L13.6,25.2L9.5,25.4Z" fill="#170b07"/></g>
<g transform="translate(867.40,824.25) scale(0.6712,0.6554)"><path d="M4.3,0H24.9A4.3,4.3 0 0 0 29.2,4.3V25.3A4.3,4.3 0 0 0 24.9,29.6H4.3A4.3,4.3 0 0 0 0,25.3V4.3A4.3,4.3 0 0 0 4.3,0Z" fill="#e1a91d"/><path d="M1.2,5.6A5,5 0 0 0 5.6,1.2H23.6A5,5 0 0 0 28,5.6V24A5,5 0 0 0 23.6,28.4H5.6A5,5 0 0 0 1.2,24Z" fill="none" stroke="#f2d266" stroke-width="0.8" opacity="0.8"/><path d="M4.9,16.6L8.2,14.5L11.6,20.4L20.3,5.2L23.8,7.3L13.6,25.2L9.5,25.4Z" fill="#170b07"/></g>
<g transform="translate(687.50,866.00) scale(1.0000,1.0000)"><path d="M4.3,0H24.9A4.3,4.3 0 0 0 29.2,4.3V25.3A4.3,4.3 0 0 0 24.9,29.6H4.3A4.3,4.3 0 0 0 0,25.3V4.3A4.3,4.3 0 0 0 4.3,0Z" fill="#e1a91d"/><path d="M1.2,5.6A5,5 0 0 0 5.6,1.2H23.6A5,5 0 0 0 28,5.6V24A5,5 0 0 0 23.6,28.4H5.6A5,5 0 0 0 1.2,24Z" fill="none" stroke="#f2d266" stroke-width="0.8" opacity="0.8"/><path d="M4.9,16.6L8.2,14.5L11.6,20.4L20.3,5.2L23.8,7.3L13.6,25.2L9.5,25.4Z" fill="#170b07"/></g>
<g transform="translate(775.10,866.00) scale(1.0000,1.0000)"><path d="M4.3,0H24.9A4.3,4.3 0 0 0 29.2,4.3V25.3A4.3,4.3 0 0 0 24.9,29.6H4.3A4.3,4.3 0 0 0 0,25.3V4.3A4.3,4.3 0 0 0 4.3,0Z" fill="#e1a91d"/><path d="M1.2,5.6A5,5 0 0 0 5.6,1.2H23.6A5,5 0 0 0 28,5.6V24A5,5 0 0 0 23.6,28.4H5.6A5,5 0 0 0 1.2,24Z" fill="none" stroke="#f2d266" stroke-width="0.8" opacity="0.8"/><path d="M4.9,16.6L8.2,14.5L11.6,20.4L20.3,5.2L23.8,7.3L13.6,25.2L9.5,25.4Z" fill="#170b07"/></g>
<g transform="translate(867.40,864.50) scale(0.6712,0.6554)"><path d="M4.3,0H24.9A4.3,4.3 0 0 0 29.2,4.3V25.3A4.3,4.3 0 0 0 24.9,29.6H4.3A4.3,4.3 0 0 0 0,25.3V4.3A4.3,4.3 0 0 0 4.3,0Z" fill="#e1a91d"/><path d="M1.2,5.6A5,5 0 0 0 5.6,1.2H23.6A5,5 0 0 0 28,5.6V24A5,5 0 0 0 23.6,28.4H5.6A5,5 0 0 0 1.2,24Z" fill="none" stroke="#f2d266" stroke-width="0.8" opacity="0.8"/><path d="M4.9,16.6L8.2,14.5L11.6,20.4L20.3,5.2L23.8,7.3L13.6,25.2L9.5,25.4Z" fill="#170b07"/></g>
<g transform="translate(775.10,906.15) scale(1.0000,1.0000)"><path d="M4.3,0H24.9A4.3,4.3 0 0 0 29.2,4.3V25.3A4.3,4.3 0 0 0 24.9,29.6H4.3A4.3,4.3 0 0 0 0,25.3V4.3A4.3,4.3 0 0 0 4.3,0Z" fill="#e1a91d"/><path d="M1.2,5.6A5,5 0 0 0 5.6,1.2H23.6A5,5 0 0 0 28,5.6V24A5,5 0 0 0 23.6,28.4H5.6A5,5 0 0 0 1.2,24Z" fill="none" stroke="#f2d266" stroke-width="0.8" opacity="0.8"/><path d="M4.9,16.6L8.2,14.5L11.6,20.4L20.3,5.2L23.8,7.3L13.6,25.2L9.5,25.4Z" fill="#170b07"/></g>
<g transform="translate(862.60,906.15) scale(1.0000,1.0000)"><path d="M4.3,0H24.9A4.3,4.3 0 0 0 29.2,4.3V25.3A4.3,4.3 0 0 0 24.9,29.6H4.3A4.3,4.3 0 0 0 0,25.3V4.3A4.3,4.3 0 0 0 4.3,0Z" fill="#e1a91d"/><path d="M1.2,5.6A5,5 0 0 0 5.6,1.2H23.6A5,5 0 0 0 28,5.6V24A5,5 0 0 0 23.6,28.4H5.6A5,5 0 0 0 1.2,24Z" fill="none" stroke="#f2d266" stroke-width="0.8" opacity="0.8"/><path d="M4.9,16.6L8.2,14.5L11.6,20.4L20.3,5.2L23.8,7.3L13.6,25.2L9.5,25.4Z" fill="#170b07"/></g>
<g transform="translate(775.10,946.40) scale(1.0000,1.0000)"><path d="M4.3,0H24.9A4.3,4.3 0 0 0 29.2,4.3V25.3A4.3,4.3 0 0 0 24.9,29.6H4.3A4.3,4.3 0 0 0 0,25.3V4.3A4.3,4.3 0 0 0 4.3,0Z" fill="#e1a91d"/><path d="M1.2,5.6A5,5 0 0 0 5.6,1.2H23.6A5,5 0 0 0 28,5.6V24A5,5 0 0 0 23.6,28.4H5.6A5,5 0 0 0 1.2,24Z" fill="none" stroke="#f2d266" stroke-width="0.8" opacity="0.8"/><path d="M4.9,16.6L8.2,14.5L11.6,20.4L20.3,5.2L23.8,7.3L13.6,25.2L9.5,25.4Z" fill="#170b07"/></g>
<g transform="translate(862.60,946.40) scale(1.0000,1.0000)"><path d="M4.3,0H24.9A4.3,4.3 0 0 0 29.2,4.3V25.3A4.3,4.3 0 0 0 24.9,29.6H4.3A4.3,4.3 0 0 0 0,25.3V4.3A4.3,4.3 0 0 0 4.3,0Z" fill="#e1a91d"/><path d="M1.2,5.6A5,5 0 0 0 5.6,1.2H23.6A5,5 0 0 0 28,5.6V24A5,5 0 0 0 23.6,28.4H5.6A5,5 0 0 0 1.2,24Z" fill="none" stroke="#f2d266" stroke-width="0.8" opacity="0.8"/><path d="M4.9,16.6L8.2,14.5L11.6,20.4L20.3,5.2L23.8,7.3L13.6,25.2L9.5,25.4Z" fill="#170b07"/></g>
<g transform="translate(779.90,985.05) scale(0.6712,0.6554)"><path d="M4.3,0H24.9A4.3,4.3 0 0 0 29.2,4.3V25.3A4.3,4.3 0 0 0 24.9,29.6H4.3A4.3,4.3 0 0 0 0,25.3V4.3A4.3,4.3 0 0 0 4.3,0Z" fill="#e1a91d"/><path d="M1.2,5.6A5,5 0 0 0 5.6,1.2H23.6A5,5 0 0 0 28,5.6V24A5,5 0 0 0 23.6,28.4H5.6A5,5 0 0 0 1.2,24Z" fill="none" stroke="#f2d266" stroke-width="0.8" opacity="0.8"/><path d="M4.9,16.6L8.2,14.5L11.6,20.4L20.3,5.2L23.8,7.3L13.6,25.2L9.5,25.4Z" fill="#170b07"/></g>
<g transform="translate(862.60,986.55) scale(1.0000,1.0000)"><path d="M4.3,0H24.9A4.3,4.3 0 0 0 29.2,4.3V25.3A4.3,4.3 0 0 0 24.9,29.6H4.3A4.3,4.3 0 0 0 0,25.3V4.3A4.3,4.3 0 0 0 4.3,0Z" fill="#e1a91d"/><path d="M1.2,5.6A5,5 0 0 0 5.6,1.2H23.6A5,5 0 0 0 28,5.6V24A5,5 0 0 0 23.6,28.4H5.6A5,5 0 0 0 1.2,24Z" fill="none" stroke="#f2d266" stroke-width="0.8" opacity="0.8"/><path d="M4.9,16.6L8.2,14.5L11.6,20.4L20.3,5.2L23.8,7.3L13.6,25.2L9.5,25.4Z" fill="#170b07"/></g>
<g transform="translate(779.90,1025.30) scale(0.6712,0.6554)"><path d="M4.3,0H24.9A4.3,4.3 0 0 0 29.2,4.3V25.3A4.3,4.3 0 0 0 24.9,29.6H4.3A4.3,4.3 0 0 0 0,25.3V4.3A4.3,4.3 0 0 0 4.3,0Z" fill="#e1a91d"/><path d="M1.2,5.6A5,5 0 0 0 5.6,1.2H23.6A5,5 0 0 0 28,5.6V24A5,5 0 0 0 23.6,28.4H5.6A5,5 0 0 0 1.2,24Z" fill="none" stroke="#f2d266" stroke-width="0.8" opacity="0.8"/><path d="M4.9,16.6L8.2,14.5L11.6,20.4L20.3,5.2L23.8,7.3L13.6,25.2L9.5,25.4Z" fill="#170b07"/></g>
<g transform="translate(862.60,1026.80) scale(1.0000,1.0000)"><path d="M4.3,0H24.9A4.3,4.3 0 0 0 29.2,4.3V25.3A4.3,4.3 0 0 0 24.9,29.6H4.3A4.3,4.3 0 0 0 0,25.3V4.3A4.3,4.3 0 0 0 4.3,0Z" fill="#e1a91d"/><path d="M1.2,5.6A5,5 0 0 0 5.6,1.2H23.6A5,5 0 0 0 28,5.6V24A5,5 0 0 0 23.6,28.4H5.6A5,5 0 0 0 1.2,24Z" fill="none" stroke="#f2d266" stroke-width="0.8" opacity="0.8"/><path d="M4.9,16.6L8.2,14.5L11.6,20.4L20.3,5.2L23.8,7.3L13.6,25.2L9.5,25.4Z" fill="#170b07"/></g>
<g transform="translate(775.10,1066.95) scale(1.0000,1.0000)"><path d="M4.3,0H24.9A4.3,4.3 0 0 0 29.2,4.3V25.3A4.3,4.3 0 0 0 24.9,29.6H4.3A4.3,4.3 0 0 0 0,25.3V4.3A4.3,4.3 0 0 0 4.3,0Z" fill="#e1a91d"/><path d="M1.2,5.6A5,5 0 0 0 5.6,1.2H23.6A5,5 0 0 0 28,5.6V24A5,5 0 0 0 23.6,28.4H5.6A5,5 0 0 0 1.2,24Z" fill="none" stroke="#f2d266" stroke-width="0.8" opacity="0.8"/><path d="M4.9,16.6L8.2,14.5L11.6,20.4L20.3,5.2L23.8,7.3L13.6,25.2L9.5,25.4Z" fill="#170b07"/></g>
<g transform="translate(862.60,1066.95) scale(1.0000,1.0000)"><path d="M4.3,0H24.9A4.3,4.3 0 0 0 29.2,4.3V25.3A4.3,4.3 0 0 0 24.9,29.6H4.3A4.3,4.3 0 0 0 0,25.3V4.3A4.3,4.3 0 0 0 4.3,0Z" fill="#e1a91d"/><path d="M1.2,5.6A5,5 0 0 0 5.6,1.2H23.6A5,5 0 0 0 28,5.6V24A5,5 0 0 0 23.6,28.4H5.6A5,5 0 0 0 1.2,24Z" fill="none" stroke="#f2d266" stroke-width="0.8" opacity="0.8"/><path d="M4.9,16.6L8.2,14.5L11.6,20.4L20.3,5.2L23.8,7.3L13.6,25.2L9.5,25.4Z" fill="#170b07"/></g>
<g transform="translate(862.60,1107.20) scale(1.0000,1.0000)"><path d="M4.3,0H24.9A4.3,4.3 0 0 0 29.2,4.3V25.3A4.3,4.3 0 0 0 24.9,29.6H4.3A4.3,4.3 0 0 0 0,25.3V4.3A4.3,4.3 0 0 0 4.3,0Z" fill="#e1a91d"/><path d="M1.2,5.6A5,5 0 0 0 5.6,1.2H23.6A5,5 0 0 0 28,5.6V24A5,5 0 0 0 23.6,28.4H5.6A5,5 0 0 0 1.2,24Z" fill="none" stroke="#f2d266" stroke-width="0.8" opacity="0.8"/><path d="M4.9,16.6L8.2,14.5L11.6,20.4L20.3,5.2L23.8,7.3L13.6,25.2L9.5,25.4Z" fill="#170b07"/></g>
<g transform="translate(599.90,1147.35) scale(1.0000,1.0000)"><path d="M4.3,0H24.9A4.3,4.3 0 0 0 29.2,4.3V25.3A4.3,4.3 0 0 0 24.9,29.6H4.3A4.3,4.3 0 0 0 0,25.3V4.3A4.3,4.3 0 0 0 4.3,0Z" fill="#e1a91d"/><path d="M1.2,5.6A5,5 0 0 0 5.6,1.2H23.6A5,5 0 0 0 28,5.6V24A5,5 0 0 0 23.6,28.4H5.6A5,5 0 0 0 1.2,24Z" fill="none" stroke="#f2d266" stroke-width="0.8" opacity="0.8"/><path d="M4.9,16.6L8.2,14.5L11.6,20.4L20.3,5.2L23.8,7.3L13.6,25.2L9.5,25.4Z" fill="#170b07"/></g>
<g transform="translate(687.50,1147.35) scale(1.0000,1.0000)"><path d="M4.3,0H24.9A4.3,4.3 0 0 0 29.2,4.3V25.3A4.3,4.3 0 0 0 24.9,29.6H4.3A4.3,4.3 0 0 0 0,25.3V4.3A4.3,4.3 0 0 0 4.3,0Z" fill="#e1a91d"/><path d="M1.2,5.6A5,5 0 0 0 5.6,1.2H23.6A5,5 0 0 0 28,5.6V24A5,5 0 0 0 23.6,28.4H5.6A5,5 0 0 0 1.2,24Z" fill="none" stroke="#f2d266" stroke-width="0.8" opacity="0.8"/><path d="M4.9,16.6L8.2,14.5L11.6,20.4L20.3,5.2L23.8,7.3L13.6,25.2L9.5,25.4Z" fill="#170b07"/></g>
<g transform="translate(775.10,1147.35) scale(1.0000,1.0000)"><path d="M4.3,0H24.9A4.3,4.3 0 0 0 29.2,4.3V25.3A4.3,4.3 0 0 0 24.9,29.6H4.3A4.3,4.3 0 0 0 0,25.3V4.3A4.3,4.3 0 0 0 4.3,0Z" fill="#e1a91d"/><path d="M1.2,5.6A5,5 0 0 0 5.6,1.2H23.6A5,5 0 0 0 28,5.6V24A5,5 0 0 0 23.6,28.4H5.6A5,5 0 0 0 1.2,24Z" fill="none" stroke="#f2d266" stroke-width="0.8" opacity="0.8"/><path d="M4.9,16.6L8.2,14.5L11.6,20.4L20.3,5.2L23.8,7.3L13.6,25.2L9.5,25.4Z" fill="#170b07"/></g>
<g transform="translate(862.60,1147.35) scale(1.0000,1.0000)"><path d="M4.3,0H24.9A4.3,4.3 0 0 0 29.2,4.3V25.3A4.3,4.3 0 0 0 24.9,29.6H4.3A4.3,4.3 0 0 0 0,25.3V4.3A4.3,4.3 0 0 0 4.3,0Z" fill="#e1a91d"/><path d="M1.2,5.6A5,5 0 0 0 5.6,1.2H23.6A5,5 0 0 0 28,5.6V24A5,5 0 0 0 23.6,28.4H5.6A5,5 0 0 0 1.2,24Z" fill="none" stroke="#f2d266" stroke-width="0.8" opacity="0.8"/><path d="M4.9,16.6L8.2,14.5L11.6,20.4L20.3,5.2L23.8,7.3L13.6,25.2L9.5,25.4Z" fill="#170b07"/></g>
<g transform="translate(599.90,1187.60) scale(1.0000,1.0000)"><path d="M4.3,0H24.9A4.3,4.3 0 0 0 29.2,4.3V25.3A4.3,4.3 0 0 0 24.9,29.6H4.3A4.3,4.3 0 0 0 0,25.3V4.3A4.3,4.3 0 0 0 4.3,0Z" fill="#e1a91d"/><path d="M1.2,5.6A5,5 0 0 0 5.6,1.2H23.6A5,5 0 0 0 28,5.6V24A5,5 0 0 0 23.6,28.4H5.6A5,5 0 0 0 1.2,24Z" fill="none" stroke="#f2d266" stroke-width="0.8" opacity="0.8"/><path d="M4.9,16.6L8.2,14.5L11.6,20.4L20.3,5.2L23.8,7.3L13.6,25.2L9.5,25.4Z" fill="#170b07"/></g>
<g transform="translate(687.50,1187.60) scale(1.0000,1.0000)"><path d="M4.3,0H24.9A4.3,4.3 0 0 0 29.2,4.3V25.3A4.3,4.3 0 0 0 24.9,29.6H4.3A4.3,4.3 0 0 0 0,25.3V4.3A4.3,4.3 0 0 0 4.3,0Z" fill="#e1a91d"/><path d="M1.2,5.6A5,5 0 0 0 5.6,1.2H23.6A5,5 0 0 0 28,5.6V24A5,5 0 0 0 23.6,28.4H5.6A5,5 0 0 0 1.2,24Z" fill="none" stroke="#f2d266" stroke-width="0.8" opacity="0.8"/><path d="M4.9,16.6L8.2,14.5L11.6,20.4L20.3,5.2L23.8,7.3L13.6,25.2L9.5,25.4Z" fill="#170b07"/></g>
<g transform="translate(775.10,1187.60) scale(1.0000,1.0000)"><path d="M4.3,0H24.9A4.3,4.3 0 0 0 29.2,4.3V25.3A4.3,4.3 0 0 0 24.9,29.6H4.3A4.3,4.3 0 0 0 0,25.3V4.3A4.3,4.3 0 0 0 4.3,0Z" fill="#e1a91d"/><path d="M1.2,5.6A5,5 0 0 0 5.6,1.2H23.6A5,5 0 0 0 28,5.6V24A5,5 0 0 0 23.6,28.4H5.6A5,5 0 0 0 1.2,24Z" fill="none" stroke="#f2d266" stroke-width="0.8" opacity="0.8"/><path d="M4.9,16.6L8.2,14.5L11.6,20.4L20.3,5.2L23.8,7.3L13.6,25.2L9.5,25.4Z" fill="#170b07"/></g>
</svg>

<!-- social -->
<svg width="1080" height="1350" viewBox="0 0 1080 1350">
  <path d="M907,1272.4H958A2.6,2.6 0 0 0 960.6,1275V1291.7A2.6,2.6 0 0 0 958,1294.3H907A2.6,2.6 0 0 0 904.4,1291.7V1275A2.6,2.6 0 0 0 907,1272.4Z" fill="none" stroke="#111" stroke-width="1.3"/>
  <rect x="911.4" y="1277.6" width="11.8" height="11.8" rx="3.2" fill="none" stroke="#111" stroke-width="1.5"/>
  <circle cx="917.3" cy="1283.5" r="2.7" fill="none" stroke="#111" stroke-width="1.4"/>
  <circle cx="920.7" cy="1280.1" r="0.8" fill="#111"/>
  <path d="M933.9,1277.1v8.7a2.6,2.6 0 1 1 -2.6,-2.6" fill="none" stroke="#111" stroke-width="2.4"/>
  <path d="M933.9,1277.1q0.5,3.1 4.3,3.5" fill="none" stroke="#111" stroke-width="2.4"/>
  <path d="M942.2,1277.4L952.6,1289.6" fill="none" stroke="#111" stroke-width="2.3"/>
  <path d="M953.0,1277.4L941.6,1289.6" fill="none" stroke="#111" stroke-width="1"/>
</svg>

<div class="t" style="left:145.28px;top:52.40px;font-size:16.98px;color:#0d0d0d;transform:scaleX(1.1105);-webkit-text-stroke:0.4px #0d0d0d;">KANTOR</div>
<div class="t" style="left:145.27px;top:72.00px;font-size:16.98px;color:#0d0d0d;transform:scaleX(1.1165);-webkit-text-stroke:0.4px #0d0d0d;">KOMUNIKASI</div>
<div class="t" style="left:145.31px;top:91.30px;font-size:16.98px;color:#0d0d0d;transform:scaleX(1.0832);-webkit-text-stroke:0.4px #0d0d0d;">KEPRESIDENAN</div>
<div class="t" style="left:145.61px;top:111.60px;font-size:8.12px;color:#0d0d0d;transform:scaleX(0.8919);font-style:italic;">Presidential Communication Office</div>
<div class="t" style="left:375.85px;top:69.70px;font-size:90.87px;color:#d8a622;transform:scaleX(1.0183);letter-spacing:3px;font-style:italic;-webkit-text-stroke:3.8px #d8a622;">Pemeriksaan</div>
<div class="t" style="left:608.01px;top:166.30px;font-size:40.29px;color:#0d0d0d;transform:scaleX(0.9822);font-weight:400;letter-spacing:1.3px;-webkit-text-stroke:1.4px #0d0d0d;">Dewasa dan Lansia</div>
<div class="t" style="left:468.43px;top:238.40px;font-size:29.42px;color:#0d0d0d;transform:scaleX(1.0328);font-weight:400;-webkit-text-stroke:0.4px #0d0d0d;">Lokasi di Puskesmas dan FTKP lain</div>
<div class="t" style="left:248.59px;top:355.00px;font-size:22.3px;color:#dbb543;transform:scaleX(1.0095);">Layanan Pemeriksaan</div>
<div class="t" style="left:726.99px;top:326.30px;font-size:21.87px;color:#dbb543;transform:scaleX(1.0686);">Tahun</div>
<div class="t" style="left:583.64px;top:383.20px;font-size:22.57px;color:#dbb543;transform:scaleX(1.1157);">18-29</div>
<div class="t" style="left:670.64px;top:383.20px;font-size:22.57px;color:#dbb543;transform:scaleX(1.1121);">30-39</div>
<div class="t" style="left:758.07px;top:383.20px;font-size:22.57px;color:#dbb543;transform:scaleX(1.0993);">40-59</div>
<div class="t" style="left:856.41px;top:383.20px;font-size:22.57px;color:#dbb543;transform:scaleX(1.1705);">≥60</div>
<div class="t" style="left:206.13px;top:429.55px;font-size:20.14px;color:#0d0d0d;transform:scaleX(1.0614);font-weight:400;letter-spacing:0.5px;-webkit-text-stroke:0.9px #0d0d0d;">Telinga</div>
<div class="t" style="left:204.85px;top:468.80px;font-size:20.14px;color:#f4f6fb;transform:scaleX(1.0633);font-weight:400;letter-spacing:0.5px;-webkit-text-stroke:0.9px #f4f6fb;">Mata</div>
<div class="t" style="left:205.50px;top:508.30px;font-size:20.14px;color:#0d0d0d;transform:scaleX(1.0488);font-weight:400;letter-spacing:0.5px;-webkit-text-stroke:0.9px #0d0d0d;">Gigi</div>
<div class="t" style="left:206.26px;top:550.05px;font-size:20.14px;color:#f4f6fb;transform:scaleX(0.9641);font-weight:400;letter-spacing:0.5px;-webkit-text-stroke:0.9px #f4f6fb;">Jiwa</div>
<div class="t" style="left:205.54px;top:590.05px;font-size:20.14px;color:#0d0d0d;transform:scaleX(1.0101);font-weight:400;letter-spacing:0.5px;-webkit-text-stroke:0.9px #0d0d0d;">Gizi</div>
<div class="t" style="left:206.13px;top:630.55px;font-size:20.14px;color:#f4f6fb;transform:scaleX(1.0416);font-weight:400;letter-spacing:0.5px;-webkit-text-stroke:0.9px #f4f6fb;">Tekanan Darah</div>
<div class="t" style="left:204.86px;top:669.55px;font-size:20.14px;color:#0d0d0d;transform:scaleX(1.0545);font-weight:400;letter-spacing:0.5px;-webkit-text-stroke:0.9px #0d0d0d;">Diabetes Melitus</div>
<div class="t" style="left:204.86px;top:709.55px;font-size:20.14px;color:#f4f6fb;transform:scaleX(1.0553);font-weight:400;letter-spacing:0.5px;-webkit-text-stroke:0.9px #f4f6fb;">Merokok</div>
<div class="t" style="left:206.13px;top:750.55px;font-size:20.14px;color:#0d0d0d;transform:scaleX(1.0479);font-weight:400;letter-spacing:0.5px;-webkit-text-stroke:0.9px #0d0d0d;">Tuberkulosis</div>
<div class="t" style="left:204.87px;top:789.30px;font-size:20.14px;color:#f4f6fb;transform:scaleX(1.0513);font-weight:400;letter-spacing:0.5px;-webkit-text-stroke:0.9px #f4f6fb;">Kebugaran</div>
<div class="t" style="left:204.91px;top:829.05px;font-size:20.14px;color:#0d0d0d;transform:scaleX(1.0232);font-weight:400;letter-spacing:0.5px;-webkit-text-stroke:0.9px #0d0d0d;">Kanker Payudara</div>
<div class="t" style="left:204.91px;top:870.55px;font-size:20.14px;color:#f4f6fb;transform:scaleX(1.0246);font-weight:400;letter-spacing:0.5px;-webkit-text-stroke:0.9px #f4f6fb;">Kanker Leher Rahim</div>
<div class="t" style="left:205.63px;top:911.30px;font-size:20.14px;color:#0d0d0d;transform:scaleX(1.0257);font-weight:400;letter-spacing:0.5px;-webkit-text-stroke:0.9px #0d0d0d;">Stroke, Jantung*</div>
<div class="t" style="left:205.50px;top:951.80px;font-size:20.14px;color:#f4f6fb;transform:scaleX(1.0518);font-weight:400;letter-spacing:0.5px;-webkit-text-stroke:0.9px #f4f6fb;">Ginjal*</div>
<div class="t" style="left:204.89px;top:991.30px;font-size:20.14px;color:#0d0d0d;transform:scaleX(1.0347);font-weight:400;letter-spacing:0.5px;-webkit-text-stroke:0.9px #0d0d0d;">Kanker Paru</div>
<div class="t" style="left:204.92px;top:1030.55px;font-size:20.14px;color:#f4f6fb;transform:scaleX(1.0162);font-weight:400;letter-spacing:0.5px;-webkit-text-stroke:0.9px #f4f6fb;">Kanker Usus Besar</div>
<div class="t" style="left:204.87px;top:1072.55px;font-size:20.14px;color:#0d0d0d;transform:scaleX(1.0528);font-weight:400;letter-spacing:0.5px;-webkit-text-stroke:0.9px #0d0d0d;">Penyakit Paru Obstruktif Kronis</div>
<div class="t" style="left:205.48px;top:1110.85px;font-size:20.14px;color:#f4f6fb;transform:scaleX(1.0669);font-weight:400;letter-spacing:0.5px;-webkit-text-stroke:0.9px #f4f6fb;">Geriatri</div>
<div class="t" style="left:204.78px;top:1151.85px;font-size:20.14px;color:#0d0d0d;transform:scaleX(1.1034);font-weight:400;letter-spacing:0.5px;-webkit-text-stroke:0.9px #0d0d0d;">Hati</div>
<div class="t" style="left:205.51px;top:1191.85px;font-size:20.14px;color:#f4f6fb;transform:scaleX(1.0396);font-weight:400;letter-spacing:0.5px;-webkit-text-stroke:0.9px #f4f6fb;">Calon Pengantin</div>
<div class="t" style="left:252.14px;top:1158.30px;font-size:13.38px;color:#0d0d0d;transform:scaleX(0.9317);">(Hepatitis B, Hepatitis C, Sirosis, Kanker Hati)</div>
<div class="t" style="left:373.42px;top:1198.30px;font-size:13.38px;color:#f4f6fb;transform:scaleX(0.9600);">(Anemia, HIV, Sifilis) **</div>
<div class="t" style="left:843.30px;top:845.00px;font-size:10.94px;color:#0d0d0d;transform:scaleX(0.9921);">(60-69 tahun)</div>
<div class="t" style="left:843.30px;top:886.60px;font-size:10.94px;color:#f4f6fb;transform:scaleX(0.9921);">(60-69 tahun)</div>
<div class="t" style="left:755.71px;top:1006.10px;font-size:10.94px;color:#0d0d0d;transform:scaleX(0.9861);">(45-59 tahun)</div>
<div class="t" style="left:755.71px;top:1046.00px;font-size:10.94px;color:#f4f6fb;transform:scaleX(0.9861);">(45-59 tahun)</div>
<div class="t" style="left:56.90px;top:1260.08px;font-size:16.67px;color:#0d0d0d;transform:scaleX(1.1475);font-weight:400;-webkit-text-stroke:0.25px #0d0d0d;">*</div>
<div class="t" style="left:67.10px;top:1260.08px;font-size:16.67px;color:#0d0d0d;transform:scaleX(1.0943);font-weight:400;-webkit-text-stroke:0.25px #0d0d0d;">Pada Kelompok Risiko</div>
<div class="t" style="left:49.14px;top:1288.88px;font-size:16.67px;color:#0d0d0d;transform:scaleX(1.1719);font-weight:400;-webkit-text-stroke:0.25px #0d0d0d;">**</div>
<div class="t" style="left:67.10px;top:1288.88px;font-size:16.67px;color:#0d0d0d;transform:scaleX(1.0996);font-weight:400;-webkit-text-stroke:0.25px #0d0d0d;">Pada Kelompok yang akan menikah dalam 1 tahun ke depan</div>
<div class="t" style="left:967.23px;top:1273.90px;font-size:16.12px;color:#0d0d0d;transform:scaleX(1.0725);">@pco.ri</div>




</div>
</body>
</html>
